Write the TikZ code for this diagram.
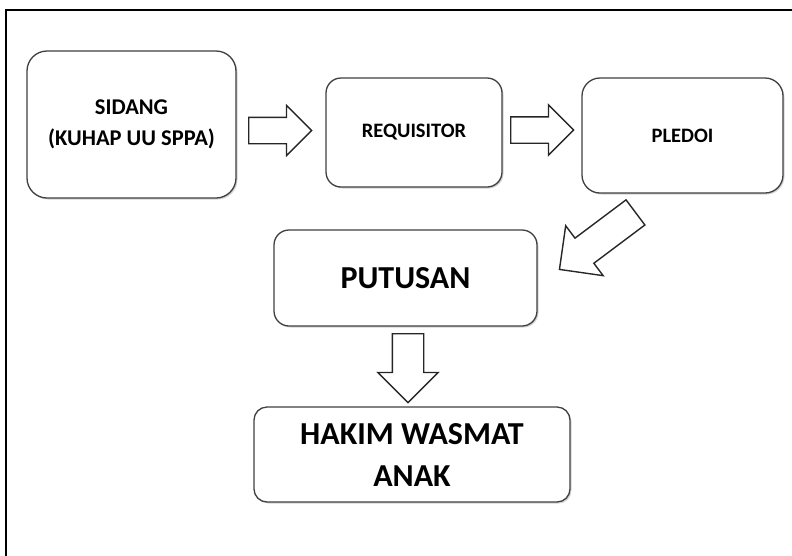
\documentclass[tikz,border=0pt]{standalone}
\usepackage{fontspec}
\setmainfont{Carlito}
\usetikzlibrary{shapes.arrows,shadows}

\begin{document}
\begin{tikzpicture}[x=1pt,y=-1pt]
        \tikzstyle{every node}=[font=\bfseries, align=center, text=black]
        \tikzstyle{stagebox}=[draw=black!75, line width=1.3pt, fill=white, rounded corners=15pt,
            drop shadow={shadow xshift=1.5pt, shadow yshift=-1.5pt, opacity=0.35}]
        \tikzstyle{blockarrow}=[single arrow, draw=black!85, line width=1.4pt, fill=white,
            inner xsep=0pt, single arrow head indent=0pt, anchor=tail]
        \useasboundingbox (0,0) rectangle (792,555);
        \clip (0,0) rectangle (792,555);
        \draw[line width=2pt] (6.3,10) rectangle (820,580);

        % stages
        \node[stagebox, rounded corners=20pt, minimum width=209pt, minimum height=147pt,
            font=\fontsize{22.5}{31}\bfseries] (sidang) at (131.5,124.5) {SIDANG\\(KUHAP UU SPPA)};
        \node[stagebox, minimum width=176pt, minimum height=109pt,
            font=\fontsize{20.5}{24}\bfseries] (requisitor) at (414,132.5) {REQUISITOR};
        \node[stagebox, rounded corners=18pt, minimum width=201pt, minimum height=115pt,
            font=\fontsize{20.5}{24}\bfseries] (pledoi) at (682.5,135.5) {PLEDOI};
        \node[stagebox, minimum width=263pt, minimum height=96pt,
            font=\fontsize{32}{38}\bfseries] (putusan) at (405.5,278) {PUTUSAN};
        \node[stagebox, rounded corners=13pt, minimum width=316pt, minimum height=95pt,
            font=\fontsize{32}{42}\bfseries] (hakim) at (412,454.5) {HAKIM WASMAT\\ANAK};

        % block arrows
        \node[blockarrow, inner ysep=12.5pt, minimum height=63pt, single arrow head extend=12pt]
            (sidangtoreq) at (248,130.5) {};
        \node[blockarrow, inner ysep=12.5pt, minimum height=63pt, single arrow head extend=12pt]
            (reqtopledoi) at (510,130) {};
        \node[blockarrow, inner ysep=15pt, rotate=216.87, minimum height=95pt, single arrow head extend=15.5pt]
            (pledoitoput) at (636,212) {};
        \node[blockarrow, inner ysep=15pt, rotate=-90, minimum height=69pt, single arrow head extend=14.5pt]
            (puttohakim) at (408,333) {};
\end{tikzpicture}
\end{document}
